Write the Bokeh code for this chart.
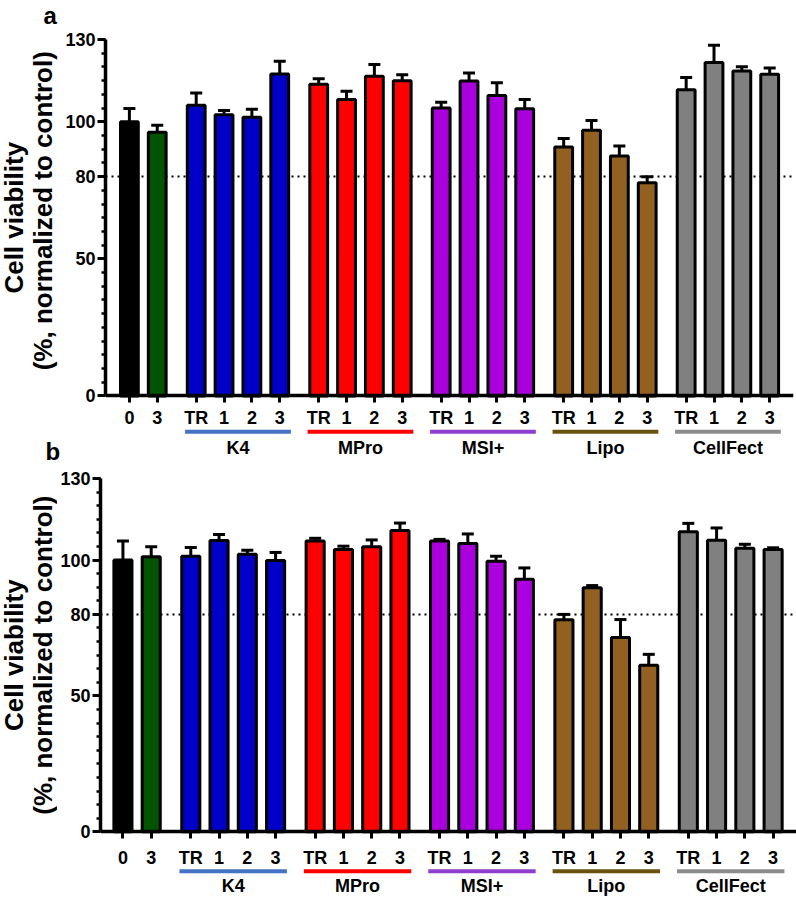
import math
from bokeh.plotting import figure
from bokeh.layouts import column, row
from bokeh.models import LinearAxis, FixedTicker, Range1d
from bokeh.core.properties import value
from bokeh.embed import file_html
from bokeh.resources import INLINE

# ---------------- data ----------------
control_labels = ["0", "3"]
control_colors = ["#000000", "#015501"]
groups = ["K4", "MPro", "MSI+", "Lipo", "CellFect"]
group_bar_colors = ["#0000C8", "#FF0000", "#AA00DD", "#926121", "#808080"]
group_line_colors = ["#4472C4", "#FF0000", "#8E3FCF", "#6B5210", "#8C8C8C"]
members = ["TR", "1", "2", "3"]
y_ticks = [0, 50, 80, 100, 130]
threshold = 80
ylabel_lines = ["Cell viability", "(%, normalized to control)"]
panel_letters = ["a", "b"]

viab_a = [100.0, 96.2,
          106.0, 102.6, 101.6, 117.4,
          113.7, 108.1, 116.6, 115.0,
          105.0, 114.9, 109.6, 104.7,
          90.8, 96.9, 87.5, 77.8,
          111.7, 121.6, 118.5, 117.3]
err_a = [4.8, 2.5,
         4.5, 1.5, 3.0, 4.7,
         2.0, 3.0, 4.3, 2.1,
         2.1, 2.9, 4.6, 3.4,
         3.1, 3.6, 3.7, 2.1,
         4.4, 6.3, 1.6, 2.3]
viab_b = [100.0, 101.2,
          101.4, 107.2, 102.1, 99.8,
          107.0, 103.9, 104.9, 110.9,
          107.0, 106.1, 99.6, 92.9,
          78.0, 89.8, 71.5, 61.3,
          110.4, 107.3, 104.3, 103.9]
err_b = [7.0, 3.7,
         3.2, 2.2, 1.5, 3.0,
         1.0, 1.2, 2.5, 2.7,
         0.6, 3.5, 1.8, 4.2,
         2.0, 0.8, 6.6, 4.0,
         3.1, 4.5, 1.5, 0.6]

# ---------------- categories placed on a numeric axis ----------------
STEP = 5
GROUP_START = 12
GROUP_STRIDE = 22
x_pos = [i * STEP for i in range(len(control_labels))] + [
    GROUP_START + g * GROUP_STRIDE + j * STEP
    for g in range(len(groups)) for j in range(len(members))]
tick_text = control_labels + members * len(groups)
bar_colors = control_colors + [c for c in group_bar_colors for _ in members]
grp_first = [GROUP_START + g * GROUP_STRIDE for g in range(len(groups))]
grp_last = [f + (len(members) - 1) * STEP for f in grp_first]
grp_mid = [(a + b) / 2 for a, b in zip(grp_first, grp_last)]

FONT = "Liberation Sans"
PAGE_W = 796
PAGE_H = 897
YMAX = 130


def build_panel(vals, errs, *, width, height, top, left, right, y_scale,
                x_unit_px, first_px, line_dy, label_dy, tick_standoff):
    frame_w = width - left - right
    x0 = -first_px / x_unit_px
    x1 = x0 + frame_w / x_unit_px
    # the frame covers the whole height; the axis stops at YMAX
    y1 = YMAX + top / y_scale
    y0 = y1 - height / y_scale

    p = figure(width=width, height=height, x_range=Range1d(x0, x1),
               y_range=Range1d(y0, y1), output_backend="svg",
               toolbar_location=None, x_axis_location=None,
               y_axis_location=None, min_border_left=left,
               min_border_right=right, min_border_top=0,
               min_border_bottom=0)
    p.outline_line_color = None
    p.background_fill_color = "white"
    p.grid.visible = False

    p.hspan(y=[threshold], line_color="black", line_width=2, line_dash="2 4")

    p.vbar(x=x_pos, top=vals, bottom=0, width=3.2, fill_color=bar_colors,
           line_color="black", line_width=3)
    tops = [v + e for v, e in zip(vals, errs)]
    p.segment(x0=x_pos, y0=vals, x1=x_pos, y1=tops, line_color="black",
              line_width=3)
    p.scatter(x=x_pos, y=tops, marker="dash", size=12, line_color="black",
              line_width=3)

    gy = -line_dy / y_scale
    p.segment(x0=[f - 2 for f in grp_first], y0=gy,
              x1=[l + 2 for l in grp_last], y1=gy,
              line_color=group_line_colors, line_width=4)
    p.text(x=grp_mid, y=-label_dy / y_scale, text=groups, text_align="center",
           text_baseline="middle", text_font=value(FONT),
           text_font_style="bold", text_font_size="18px", text_color="black")

    yaxis = LinearAxis(ticker=FixedTicker(ticks=y_ticks,
                                          minor_ticks=list(range(0, YMAX + 1, 5))),
                       bounds=(0, YMAX))
    yaxis.axis_line_width = 3.5
    yaxis.major_tick_line_width = 3
    yaxis.minor_tick_line_width = 2.5
    yaxis.major_tick_out = 8
    yaxis.major_tick_in = 0
    yaxis.minor_tick_out = 4
    yaxis.minor_tick_in = 0
    yaxis.major_label_text_font = FONT
    yaxis.major_label_text_font_style = "bold"
    yaxis.major_label_text_font_size = "18px"
    yaxis.major_label_text_color = "black"
    yaxis.major_label_standoff = 2
    p.add_layout(yaxis, "left")

    xaxis = LinearAxis(ticker=FixedTicker(ticks=x_pos), fixed_location=0,
                       major_label_overrides={x: t for x, t in zip(x_pos, tick_text)})
    xaxis.axis_line_width = 3.5
    xaxis.major_tick_line_width = 3
    xaxis.major_tick_out = 7
    xaxis.major_tick_in = 0
    xaxis.minor_tick_line_color = None
    xaxis.major_label_text_font = FONT
    xaxis.major_label_text_font_style = "bold"
    xaxis.major_label_text_font_size = "18px"
    xaxis.major_label_text_color = "black"
    xaxis.major_label_standoff = tick_standoff
    p.add_layout(xaxis, "below")
    return p


def build_strip(width, height, label_xs, label_ys, letters=(), letter_xs=(),
                letter_ys=()):
    s = figure(width=width, height=height, x_range=Range1d(0, width),
               y_range=Range1d(0, height), output_backend="svg",
               toolbar_location=None, x_axis_location=None,
               y_axis_location=None, min_border=0)
    s.outline_line_color = None
    s.grid.visible = False
    # y positions are measured from the top of the strip
    s.text(x=label_xs, y=[height - v for v in label_ys], text=ylabel_lines,
           angle=math.pi / 2, text_align="center", text_baseline="middle",
           text_font=value(FONT), text_font_style="bold",
           text_font_size="26px", text_color="black")
    if letters:
        s.text(x=list(letter_xs), y=[height - v for v in letter_ys],
               text=list(letters), text_align="left",
               text_baseline="middle", text_font=value(FONT),
               text_font_style="bold", text_font_size="24px",
               text_color="black")
    return s


# panel geometry (pixels)
H_A = 470
TOP_A = 39
SCALE_A = 2.742
STRIP_A = 62
H_B = PAGE_H - H_A
TOP_B = 8
SCALE_B = 2.718
STRIP_B = 57

fig_a = build_panel(viab_a, err_a, width=PAGE_W - STRIP_A, height=H_A,
                    top=TOP_A, left=40, right=3, y_scale=SCALE_A,
                    x_unit_px=27.96 / STEP, first_px=24,
                    line_dy=35.8, label_dy=52.0, tick_standoff=5)
fig_b = build_panel(viab_b, err_b, width=PAGE_W - STRIP_B, height=H_B,
                    top=TOP_B, left=41, right=0, y_scale=SCALE_B,
                    x_unit_px=28.35 / STEP, first_px=22.5,
                    line_dy=39.5, label_dy=54.5, tick_standoff=9)

mid_a = TOP_A + YMAX * SCALE_A / 2
mid_b = TOP_B + YMAX * SCALE_B / 2
strip_a = build_strip(STRIP_A, H_A, [13.5, 42.5], [mid_a, mid_a - 7],
                      panel_letters, [43, 45], [14.5, 451])
strip_b = build_strip(STRIP_B, H_B, [13.5, 42], [mid_b, mid_b])

layout = column(row(strip_a, fig_a, spacing=0), row(strip_b, fig_b, spacing=0),
                spacing=0)
open("out.html", "w").write(file_html(layout, INLINE))
